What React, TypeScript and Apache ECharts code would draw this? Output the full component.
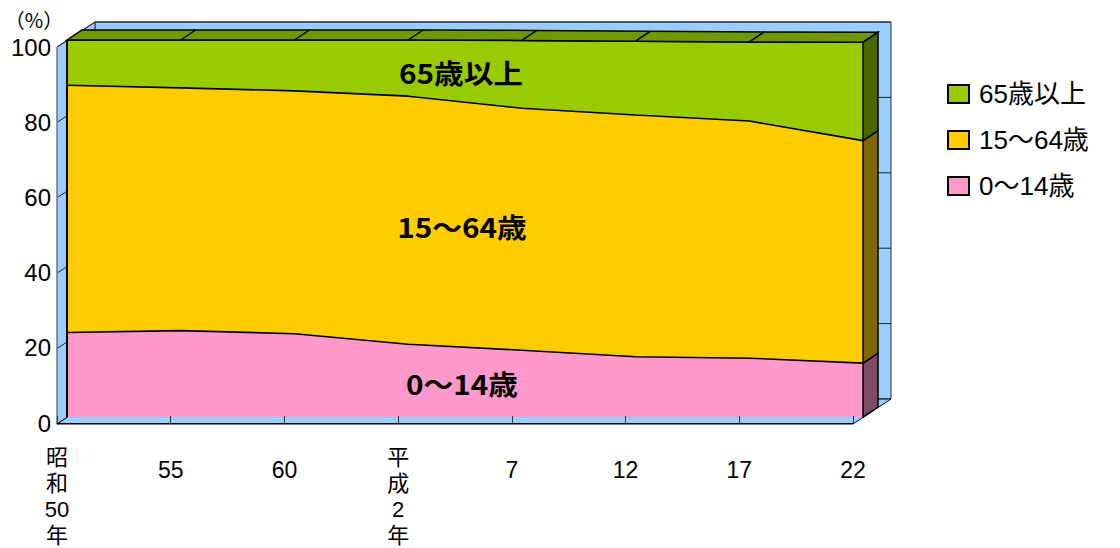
import React, { useEffect, useRef } from "react";
import * as echarts from "echarts";

// ---- data ----
const categories = ["昭\n和\n50\n年", "55", "60", "平\n成\n2\n年", "7", "12", "17", "22"];
const seriesNames = ["0～14歳", "15～64歳", "65歳以上"];
const age0to14 = [22.4, 22.9, 22.1, 19.3, 17.7, 16.0, 15.6, 14.3];
const age15to64 = [65.6, 64.4, 64.4, 65.8, 64.2, 64.1, 62.9, 59.0];
const age65plus = [12.0, 12.7, 13.5, 14.9, 18.0, 19.6, 21.0, 26.1];
const yTicks = [0, 20, 40, 60, 80, 100];

// ---- styles ----
const frontColors = ["#FF99CC", "#FFCC00", "#99CC00"];
const sideColors = ["#804C66", "#806600", "#4C6600"];
const topColor = "#6E9900";
const wallColor = "#99CCFF";
const FONT = "'Liberation Sans', 'Noto Sans CJK JP', sans-serif";
const BOLDFONT = "'Noto Sans CJK JP', 'Noto Sans', sans-serif";

// ---- layout ----
const AXL = 57, AXT = 47, PW = 796, PH = 377; // axis (front of floor)
const SL = 67, ST = 40; // series front face
const SDX = 15, SDY = -10; // series depth
const WDX = 38, WDY = -25; // wall depth

function buildGraphic() {
  const els: any[] = [];
  const bx = AXL + WDX, by = AXT + WDY;
  els.push({
    type: "rect", z: -10,
    shape: { x: bx, y: by, width: PW, height: PH },
    style: { fill: wallColor, stroke: "#333", lineWidth: 1 },
  });
  els.push({
    type: "polygon", z: -10,
    shape: { points: [[AXL, AXT], [bx, by], [bx, by + PH], [AXL, AXT + PH]] },
    style: { fill: wallColor, stroke: "#333", lineWidth: 1 },
  });
  els.push({
    type: "polygon", z: -10,
    shape: { points: [[AXL, AXT + PH], [AXL + PW, AXT + PH], [bx + PW, by + PH], [bx, by + PH]] },
    style: { fill: wallColor, stroke: "#000", lineWidth: 1 },
  });
  yTicks.forEach((v) => {
    if (v === 0) return;
    const yf = AXT + PH * (1 - v / 100);
    const yb = yf + WDY;
    els.push({
      type: "line", z: -9,
      shape: { x1: bx, y1: yb, x2: bx + PW, y2: yb },
      style: { stroke: "#222", lineWidth: 1 },
    });
    els.push({
      type: "line", z: -9,
      shape: { x1: AXL, y1: yf, x2: bx, y2: yb },
      style: { stroke: "#222", lineWidth: 1 },
    });
  });
  els.push({
    type: "text", x: 34, y: 19, z: 5,
    style: { text: "（%）", fontSize: 20, fontFamily: BOLDFONT, fill: "#000", align: "center", verticalAlign: "middle" },
  });
  const inLabels = [
    { t: seriesNames[2], x: 461, y: 72 },
    { t: seriesNames[1], x: 462, y: 226 },
    { t: seriesNames[0], x: 462, y: 383 },
  ];
  inLabels.forEach((l) =>
    els.push({
      type: "text", x: l.x, y: l.y, z: 10, scaleX: 1.1,
      style: {
        text: l.t, fontSize: 27, fontWeight: "bold", fontFamily: BOLDFONT, fill: "#000",
        align: "center", verticalAlign: "middle",
      },
    })
  );
  return els;
}

export default function App() {
  const ref = useRef<HTMLDivElement>(null);
  useEffect(() => {
    if (!ref.current) return;
    const chart = echarts.init(ref.current, null, { renderer: "svg" });
    const values = [age0to14, age15to64, age65plus];
    const cum1 = age0to14.slice();
    const cum2 = age0to14.map((v, i) => v + age15to64[i]);
    const cum3 = cum2.map((v, i) => v + age65plus[i]);

    const lineSeries = values.map((arr, k) => ({
      name: seriesNames[k],
      type: "line",
      stack: "total",
      xAxisIndex: 1,
      yAxisIndex: 1,
      data: arr,
      symbol: "none",
      z: 2,
      itemStyle: { color: frontColors[k] },
      lineStyle: { color: "#000", width: 1.6 },
      areaStyle: { color: frontColors[k], opacity: 1 },
    }));

    const faces = {
      type: "custom",
      xAxisIndex: 1,
      yAxisIndex: 1,
      z: 3,
      clip: false,
      silent: true,
      data: [[0, 0]],
      renderItem: (_params: any, api: any) => {
        const n = categories.length;
        const P = (i: number, v: number) => api.coord([i, v]);
        const D = (p: number[]) => [p[0] + SDX, p[1] + SDY];
        const children: any[] = [];
        const front = cum3.map((v, i) => P(i, v));
        const back = front.map(D).reverse();
        children.push({
          type: "polygon",
          shape: { points: front.concat(back) },
          style: { fill: topColor, stroke: "#000", lineWidth: 1.5 },
        });
        for (let i = 1; i < n - 1; i++) {
          const b = D(front[i]);
          children.push({
            type: "line",
            shape: { x1: front[i][0], y1: front[i][1], x2: b[0], y2: b[1] },
            style: { stroke: "#000", lineWidth: 1.5 },
          });
        }
        const last = n - 1;
        const levels = [0, cum1[last], cum2[last], cum3[last]];
        for (let k = 0; k < 3; k++) {
          const a = P(last, levels[k]);
          const b = P(last, levels[k + 1]);
          children.push({
            type: "polygon",
            shape: { points: [a, b, D(b), D(a)] },
            style: { fill: sideColors[k], stroke: "#000", lineWidth: 1.5 },
          });
        }
        const l0 = P(0, 0), l1 = P(0, cum3[0]);
        children.push({
          type: "line",
          shape: { x1: l0[0], y1: l0[1], x2: l1[0], y2: l1[1] },
          style: { stroke: "#000", lineWidth: 2 },
        });
        return { type: "group", children };
      },
    };

    chart.setOption({
      animation: false,
      backgroundColor: "#fff",
      textStyle: { fontFamily: FONT },
      grid: [
        { left: AXL, top: AXT, width: PW, height: PH },
        { left: SL, top: ST, width: PW, height: PH },
      ],
      xAxis: [
        {
          type: "category", gridIndex: 0, data: categories, boundaryGap: false, z: 3,
          axisLine: { lineStyle: { color: "#000", width: 1 } },
          axisTick: { inside: true, length: 7, alignWithLabel: true, lineStyle: { color: "#333" } },
          axisLabel: {
            interval: 0, margin: 21, fontSize: 22, lineHeight: 26, color: "#000", fontFamily: FONT,
            formatter: (v: string) => (v.indexOf("\n") >= 0 ? v : `{s|${v}}`),
            rich: { s: { fontSize: 23, lineHeight: 52, color: "#000", fontFamily: FONT } },
          },
        },
        { type: "category", gridIndex: 1, data: categories, boundaryGap: false, show: false },
      ],
      yAxis: [
        {
          type: "value", gridIndex: 0, min: 0, max: 100, interval: 20, z: 3,
          axisLine: { show: true, lineStyle: { color: "#808080", width: 1 } },
          axisTick: { show: false },
          splitLine: { show: false },
          axisLabel: { fontSize: 24, color: "#000", margin: 6, padding: [9, 0, 0, 0], fontFamily: FONT },
        },
        { type: "value", gridIndex: 1, min: 0, max: 100, show: false },
      ],
      legend: {
        orient: "vertical",
        left: 942,
        top: 76,
        itemWidth: 21,
        itemHeight: 18,
        itemGap: 20,
        icon: "rect",
        data: [seriesNames[2], seriesNames[1], seriesNames[0]],
        itemStyle: { borderColor: "#000", borderWidth: 2 },
        textStyle: { fontSize: 26, color: "#000", fontFamily: FONT, padding: [0, 0, 0, 5] },
      },
      graphic: { elements: buildGraphic() },
      series: [...lineSeries, faces],
    });
    return () => chart.dispose();
  }, []);
  return (
    <div
      ref={ref}
      style={{ position: "fixed", left: 0, top: 0, width: 1120, height: 548 }}
    />
  );
}
